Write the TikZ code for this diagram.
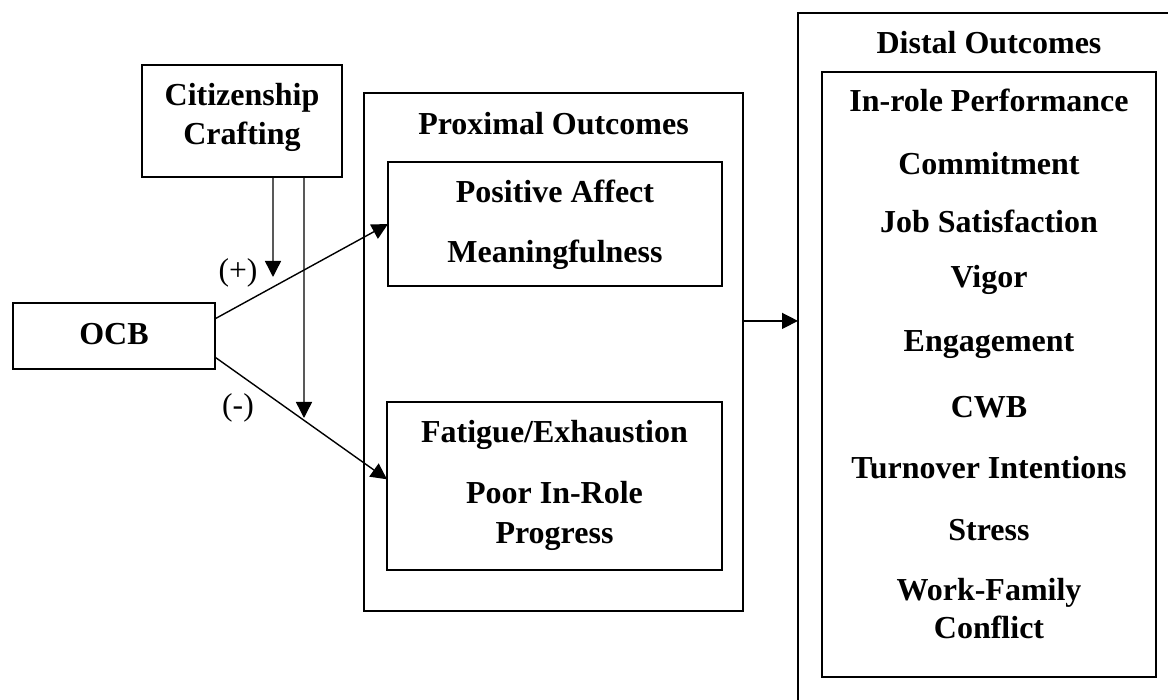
\documentclass[tikz,border=0pt]{standalone}
\usepackage{fontspec}
\setmainfont{Liberation Serif}
\usetikzlibrary{arrows.meta,calc}
\begin{document}
\begin{tikzpicture}[x=0.5pt,y=-0.5pt,
  box/.style={draw,line width=1.1pt,inner sep=0pt,outer sep=0pt},
  lbl/.style={font=\fontsize{16}{19}\selectfont\bfseries,anchor=base,inner sep=0pt},
  sign/.style={font=\fontsize{15.8}{19}\selectfont,inner sep=0pt},
  arr/.style={line width=0.7pt,-{Triangle[length=8pt,width=8pt]}}]
\useasboundingbox (0,0) rectangle (1168,700);
% boxes
\node[box,minimum width=101pt,minimum height=33pt] (ocb) at (114,336) {};
\node[box,minimum width=100pt,minimum height=56pt] (cc) at (242,121) {};
\node[box,minimum width=189.5pt,minimum height=259pt] (prox) at (553.5,352) {};
\node[box,minimum width=167pt,minimum height=62pt] (pa) at (555,224) {};
\node[box,minimum width=167.5pt,minimum height=84pt] (fe) at (554.5,486) {};
\node[box,minimum width=191pt,minimum height=349.5pt] (dist) at (989,362.5) {};
\node[box,minimum width=167pt,minimum height=302.5pt] (distin) at (989,374.5) {};
% texts
\node[lbl] (t1) at (242,106) {Citizenship};
\node[lbl] (t2) at (242,145) {Crafting};
\node[lbl] (t3) at (114,344) {OCB};
\node[lbl] (t4) at (553.5,135) {Proximal Outcomes};
\node[lbl] (t5) at (555,203) {Positive Affect};
\node[lbl] (t6) at (555,263) {Meaningfulness};
\node[lbl] (t7) at (554.5,443) {Fatigue/Exhaustion};
\node[lbl] (t8) at (554.5,503) {Poor In-Role};
\node[lbl] (t9) at (554.5,543) {Progress};
\node[lbl] (d0) at (989,54) {Distal Outcomes};
\node[lbl] (d1) at (989,112) {In-role Performance};
\node[lbl] (d2) at (989,175) {Commitment};
\node[lbl] (d3) at (989,233) {Job Satisfaction};
\node[lbl] (d4) at (989,288) {Vigor};
\node[lbl] (d5) at (989,352) {Engagement};
\node[lbl] (d6) at (989,417) {CWB};
\node[lbl] (d7) at (989,478) {Turnover Intentions};
\node[lbl] (d8) at (989,540) {Stress};
\node[lbl] (d9) at (989,600) {Work-Family};
\node[lbl] (d10) at (989,638) {Conflict};
\node[sign] (plus) at (238,273) {(+)};
\node[sign] (minus) at (238,408) {(-)};
% connectors
\coordinate (m1) at (273,277);
\coordinate (m2) at (304,418);
\draw[arr] ($(ocb.north east)!0.24!(ocb.south east)$) -- (pa.west);
\draw[arr] ($(ocb.north east)!0.82!(ocb.south east)$) -- ($(fe.north west)!0.46!(fe.south west)$);
\draw[arr] ($(cc.south west)!0.655!(cc.south east)$) -- (m1);
\draw[arr] ($(cc.south west)!0.81!(cc.south east)$) -- (m2);
\coordinate (pe) at ($(prox.north east)!0.44!(prox.south east)$);
\draw[arr] (pe) -- (pe -| dist.west);
\end{tikzpicture}
\end{document}
